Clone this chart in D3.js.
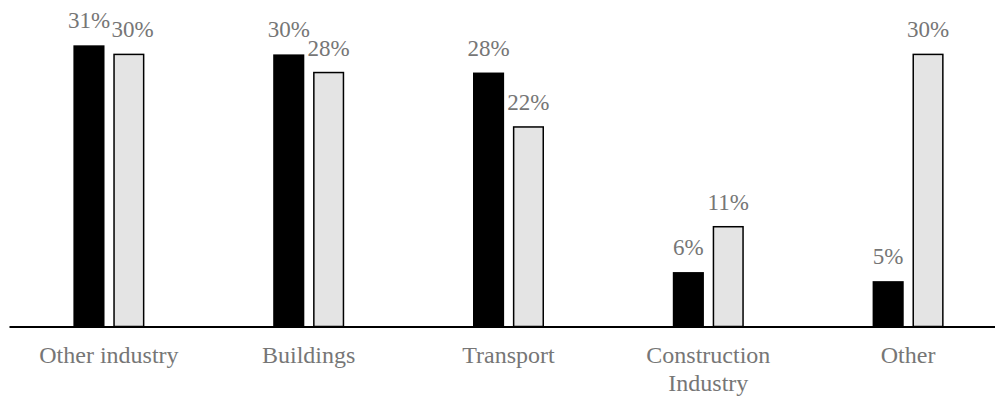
<!DOCTYPE html>
<html>
<head>
<meta charset="utf-8">
<script src="https://cdn.jsdelivr.net/npm/d3@7"></script>
<style>
	body { margin: 0; background: #fff; }
	text { font-family: "Liberation Serif", "Times New Roman", serif; fill: #767676; }
</style>
</head>
<body>
<script>

// categories and series
var categories = ["Other industry", "Buildings", "Transport", "Construction Industry", "Other"];
var series = ["first", "second"];
var firstValues = [31, 30, 28, 6, 5];
var secondValues = [30, 28, 22, 11, 30];

var colors = {first: "#000", second: "#e4e4e4"};

var width = 995,
		height = 398;

var svg = d3.select("body").append("svg")
	.attr("width", width)
	.attr("height", height);

var baseY = 326.5;

// scales
var x0 = d3.scaleBand()
	.domain(categories)
	.range([9, 1008])
	.padding(0);

var x1 = d3.scaleBand()
	.domain(series)
	.range([-35.5, 35.5])
	.paddingInner(0.22);

var y = d3.scaleLinear()
	.domain([0, 35])
	.range([baseY, baseY - 35 * 9.07]);

var rows = categories.map(function(c, i) {
	return {cat: c, first: firstValues[i], second: secondValues[i]};
});

var groups = svg.selectAll("g.cat")
	.data(rows)
	.enter().append("g")
		.attr("class", "cat")
		.attr("transform", function(d) {
			return "translate(" + (x0(d.cat) + x0.bandwidth() / 2) + ",0)";
		});

// bars
groups.selectAll("rect")
	.data(function(d) {
		return series.map(function(s) { return {key: s, value: d[s]}; });
	})
	.enter().append("rect")
		.attr("x", function(d) { return x1(d.key) + (d.key == "second" ? 0.75 : 0); })
		.attr("width", function(d) { return x1.bandwidth() - (d.key == "second" ? 1.5 : 0); })
		.attr("y", function(d) { return y(d.value); })
		.attr("height", function(d) { return baseY - y(d.value); })
		.attr("fill", function(d) { return colors[d.key]; })
		.attr("stroke", function(d) { return d.key == "second" ? "#000" : "none"; })
		.attr("stroke-width", 1.5);

// value labels
groups.each(function(d) {
	var g = d3.select(this);
	var labels = series.map(function(s) {
		return g.append("text")
			.attr("x", x1(s) + x1.bandwidth() / 2)
			.attr("y", y(d[s]) - 17)
			.attr("text-anchor", "middle")
			.style("font-size", "23px")
			.text(d[s] + "%");
	});
	// nudge the second label when it runs into the first
	var a = labels[0].node().getBBox(), b = labels[1].node().getBBox();
	var dy = Math.abs((y(d.first) - 17) - (y(d.second) - 17));
	if (dy < 16 && a.x + a.width > b.x - 1.5) {
		labels[1].attr("x", +labels[1].attr("x") + (a.x + a.width + 1.5 - b.x));
	}
});

// axis line
var xAxis = d3.axisBottom(x0).tickSize(0).tickFormat("");
svg.append("g")
	.attr("transform", "translate(0," + baseY + ")")
	.call(xAxis)
	.select(".domain")
		.attr("stroke", "#000")
		.attr("stroke-width", 2);

// category labels, wrapped
svg.selectAll("text.cat-label")
	.data(categories)
	.enter().append("text")
		.attr("class", "cat-label")
		.attr("text-anchor", "middle")
		.attr("x", function(d) { return x0(d) + x0.bandwidth() / 2; })
		.attr("y", baseY + 36.5)
		.style("font-size", "24px")
		.each(function(d) {
			var words = d == "Construction Industry" ? ["Construction", "Industry"] : [d];
			var t = d3.select(this);
			words.forEach(function(w, i) {
				t.append("tspan")
					.attr("x", t.attr("x"))
					.attr("dy", i == 0 ? 0 : 28)
					.text(w);
			});
		});
</script>
</body>
</html>
